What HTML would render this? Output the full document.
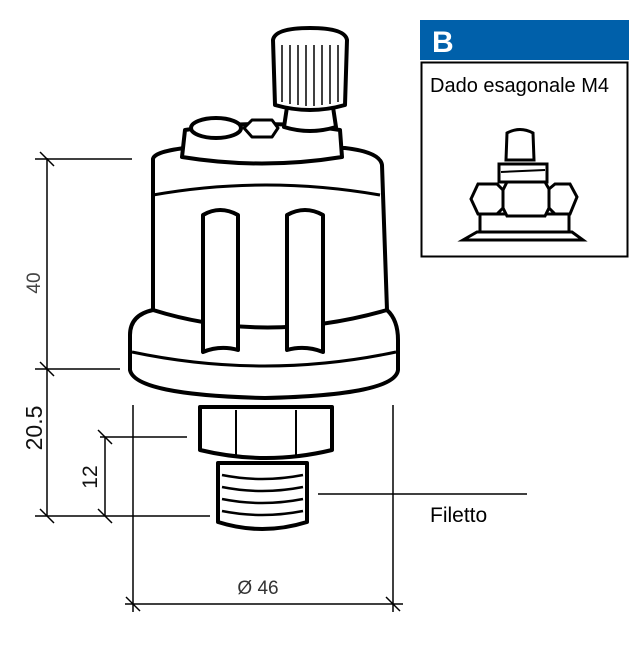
<!DOCTYPE html>
<html><head><style>body{margin:0;background:#fff}svg{display:block}</style></head>
<body>
<svg width="640" height="647" viewBox="0 0 640 647" xmlns="http://www.w3.org/2000/svg" font-family="Liberation Sans, sans-serif">
<g stroke="#000" stroke-width="1.5" fill="none">
<line x1="47" y1="158" x2="47" y2="516"/>
<line x1="35" y1="159" x2="132" y2="159"/>
<line x1="35" y1="369" x2="120" y2="369"/>
<line x1="35" y1="516" x2="210" y2="516"/>
<line x1="40" y1="152" x2="54" y2="166"/>
<line x1="40" y1="362" x2="54" y2="376"/>
<line x1="40" y1="509" x2="54" y2="523"/>
<line x1="105" y1="437" x2="105" y2="516"/>
<line x1="100" y1="437" x2="187" y2="437"/>
<line x1="98" y1="430" x2="112" y2="444"/>
<line x1="98" y1="509" x2="112" y2="523"/>
<line x1="133" y1="405" x2="133" y2="612"/>
<line x1="393" y1="405" x2="393" y2="612"/>
<line x1="125" y1="604" x2="403" y2="604"/>
<line x1="126" y1="597" x2="140" y2="611"/>
<line x1="386" y1="597" x2="400" y2="611"/>
<line x1="318" y1="494" x2="527" y2="494"/>
</g>
<text x="40" y="283" font-size="19" fill="#444" transform="rotate(-90 40 283)" text-anchor="middle">40</text>
<text x="42" y="428" font-size="23" fill="#111" transform="rotate(-90 42 428)" text-anchor="middle">20.5</text>
<text x="97" y="477" font-size="21" fill="#111" transform="rotate(-90 97 477)" text-anchor="middle">12</text>
<text x="258" y="594" font-size="19" fill="#333" text-anchor="middle">Ø 46</text>
<text x="430" y="522" font-size="21" fill="#000">Filetto</text>
<g stroke="#000" stroke-width="4" fill="#fff" stroke-linejoin="round">
<path d="M218 463 L307 463 L307 522 Q262 536 218 522 Z"/>
<path d="M222 475 Q262 483 303 475 M222 487 Q262 495 303 487 M222 499 Q262 507 303 499 M222 511 Q262 519 303 511" stroke-width="2.5" fill="none"/>
<path d="M200 407 L332 407 L332 450 Q266 466 200 450 Z"/>
<line x1="236" y1="410" x2="236" y2="455" stroke-width="2"/>
<line x1="296" y1="410" x2="296" y2="455" stroke-width="2"/>
<path d="M130 335 Q130 315 153 310 L387 310 Q398 320 398 340 L398 370 Q395 395 265 398 Q135 395 130 370 Z"/>
<path d="M132 352 Q265 380 396 352" fill="none" stroke-width="3"/>
<path d="M153 160 Q152 152 185 148 L345 148 Q380 152 382 165 L387 310 Q265 345 153 310 Z"/>
<path d="M153 195 Q265 175 380 195" fill="none" stroke-width="3"/>
<path d="M203 215 Q220 205 238 215 L238 350 Q220 345 203 352 Z"/>
<path d="M287 215 Q305 205 323 215 L323 352 Q305 345 287 350 Z"/>
<path d="M185 130 Q262 118 340 130 L342 157 Q262 170 182 157 Z"/>
<ellipse cx="216" cy="128" rx="25" ry="10"/>
<path d="M244 128 L252 120 L272 120 L278 128 L272 137 L252 137 Z" stroke-width="3"/>
<path d="M287 107 L333 107 L336 127 Q310 135 284 127 Z"/>
<path d="M273 40 Q275 28 310 28 Q345 28 347 40 L345 105 Q310 115 275 105 Z"/>
<g stroke-width="1.5" fill="none"><line x1="282" y1="45" x2="282" y2="102"/><line x1="290" y1="45" x2="290" y2="104"/><line x1="298" y1="45" x2="298" y2="105"/><line x1="306" y1="45" x2="306" y2="106"/><line x1="314" y1="45" x2="314" y2="106"/><line x1="322" y1="45" x2="322" y2="105"/><line x1="330" y1="45" x2="330" y2="104"/><line x1="338" y1="45" x2="338" y2="102"/></g>
</g>
<rect x="420" y="20" width="209" height="40" fill="#0060aa"/>
<text x="432" y="52" font-size="30" font-weight="bold" fill="#fff">B</text>
<rect x="421.5" y="62.5" width="206" height="194" fill="#fff" stroke="#000" stroke-width="2"/>
<text x="430" y="92" font-size="20" fill="#000">Dado esagonale M4</text>
<g stroke="#000" stroke-width="3" fill="#fff">
<path d="M463 240 L477 232 L572 232 L583 240 Z"/>
<rect x="480" y="214" width="89" height="18"/>
<path d="M478 184 L497 184 L503 190 L507 182 L545 182 L549 189 L555 184 L570 184 L577 197 L570 214 L555 214 L549 208 L545 216 L507 216 L503 208 L497 214 L478 214 L471 199 Z"/>
<line x1="503" y1="190" x2="503" y2="208"/><line x1="549" y1="189" x2="549" y2="208"/>
<rect x="499" y="164" width="48" height="18"/>
<line x1="501" y1="172" x2="545" y2="170" stroke-width="2"/>
<path d="M507 133 Q520 126 533 133 L534 160 L506 160 Z"/>
</g>
</svg>
</body></html>
